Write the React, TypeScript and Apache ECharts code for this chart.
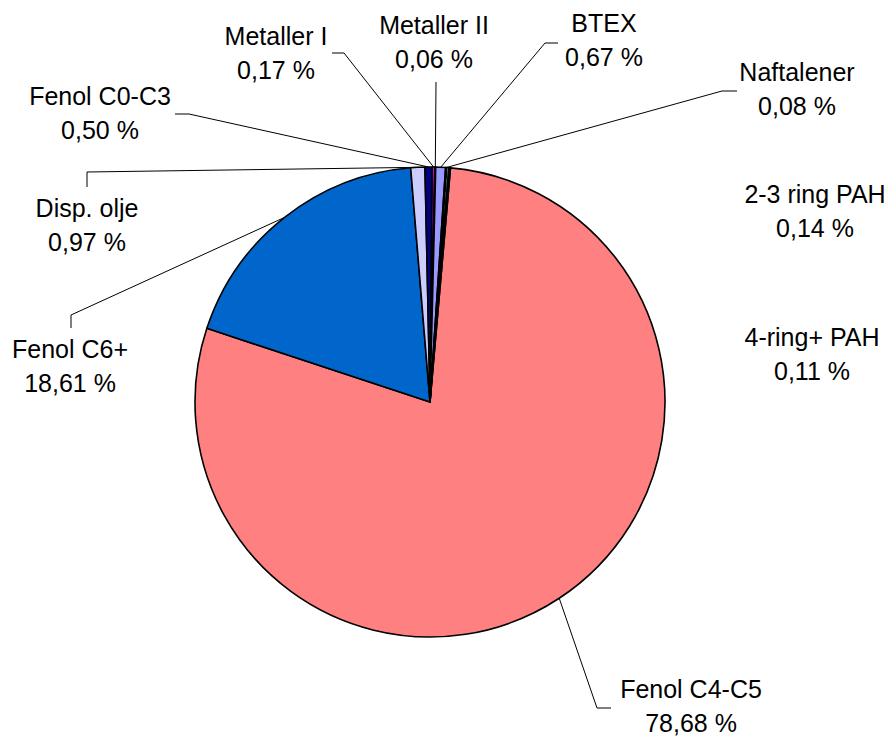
import React, { useEffect, useRef } from "react";
import * as echarts from "echarts";

// ---- data ----
const categories = [
  "Fenol C4-C5",
  "Fenol C6+",
  "Disp. olje",
  "Fenol C0-C3",
  "Metaller I",
  "Metaller II",
  "BTEX",
  "Naftalener",
  "2-3 ring PAH",
  "4-ring+ PAH",
];
const shares = [78.68, 18.61, 0.97, 0.5, 0.17, 0.06, 0.67, 0.08, 0.14, 0.11];
const sliceColors = [
  "#FF8080",
  "#0066CC",
  "#CCCCFF",
  "#000080",
  "#FF00FF",
  "#FFFF00",
  "#9999FF",
  "#993366",
  "#CCFFFF",
  "#660066",
];
const showLeader = [true, true, true, true, true, true, true, true, false, false];

// ---- annotation layout (label block centres and leader bends) ----
const PIE_CX = 430;
const PIE_CY = 402;
const PIE_R = 235;
const START_OFFSET = 5; // degrees clockwise from 12 o'clock
const labelPos: number[][] = [
  [691, 706],
  [70, 366],
  [87, 225],
  [100, 113],
  [276, 53],
  [434, 42],
  [604, 40],
  [797, 89],
  [815, 211],
  [812, 354],
];
const leaderBends: number[][][] = [
  [[597, 708], [611, 708]],
  [[71, 315], [71, 328]],
  [[87, 172], [87, 187]],
  [[189, 114], [175, 114]],
  [[344, 53], [332, 53]],
  [[436, 82]],
  [[545, 43], [558, 43]],
  [[722, 91], [737, 91]],
  [],
  [],
];

function edgePoint(i: number): number[] {
  const total = shares.reduce((a, b) => a + b, 0);
  let cum = 0;
  for (let k = 0; k < i; k++) cum += shares[k];
  const a = ((START_OFFSET + (360 * (cum + shares[i] / 2)) / total) * Math.PI) / 180;
  return [PIE_CX + PIE_R * Math.sin(a), PIE_CY - PIE_R * Math.cos(a)];
}

const fmt = (v: number) => v.toFixed(2).replace(".", ",") + " %";

export default function App() {
  const ref = useRef<HTMLDivElement>(null);

  useEffect(() => {
    document.body.style.margin = "0";
    if (!ref.current) return;
    const chart = echarts.init(ref.current, null, { renderer: "svg" });
    const option: any = {
      animation: false,
      backgroundColor: "#ffffff",
      series: [
        {
          type: "pie",
          center: [PIE_CX, PIE_CY],
          radius: [0, PIE_R],
          startAngle: 90 - START_OFFSET,
          clockwise: true,
          avoidLabelOverlap: false,
          minShowLabelAngle: 0,
          emphasis: { disabled: true },
          silent: true,
          itemStyle: { borderColor: "#000000", borderWidth: 1.6 },
          label: {
            show: true,
            position: "outside",
            color: "#000000",
            fontSize: 25,
            lineHeight: 34,
            align: "center",
            fontFamily: '"Liberation Sans", Arial, Helvetica, sans-serif',
            formatter: (p: any) => `${p.name}\n${fmt(p.value)}`,
          },
          labelLine: {
            show: true,
            length: 10,
            length2: 10,
            lineStyle: { color: "#000000", width: 1 },
          },
          labelLayout: (params: any) => {
            const i = params.dataIndex;
            const res: any = {
              x: labelPos[i][0],
              y: labelPos[i][1],
              align: "center",
              verticalAlign: "middle",
            };
            if (showLeader[i]) {
              const start =
                params.labelLinePoints && params.labelLinePoints[0]
                  ? params.labelLinePoints[0]
                  : edgePoint(i);
              res.labelLinePoints = [start, ...leaderBends[i]];
            }
            return res;
          },
          data: categories.map((name, i) => ({
            name,
            value: shares[i],
            itemStyle: { color: sliceColors[i] },
            labelLine: { show: showLeader[i] },
          })),
        },
      ],
    };
    chart.setOption(option);
    return () => chart.dispose();
  }, []);

  return <div ref={ref} style={{ width: 893, height: 736 }} />;
}
